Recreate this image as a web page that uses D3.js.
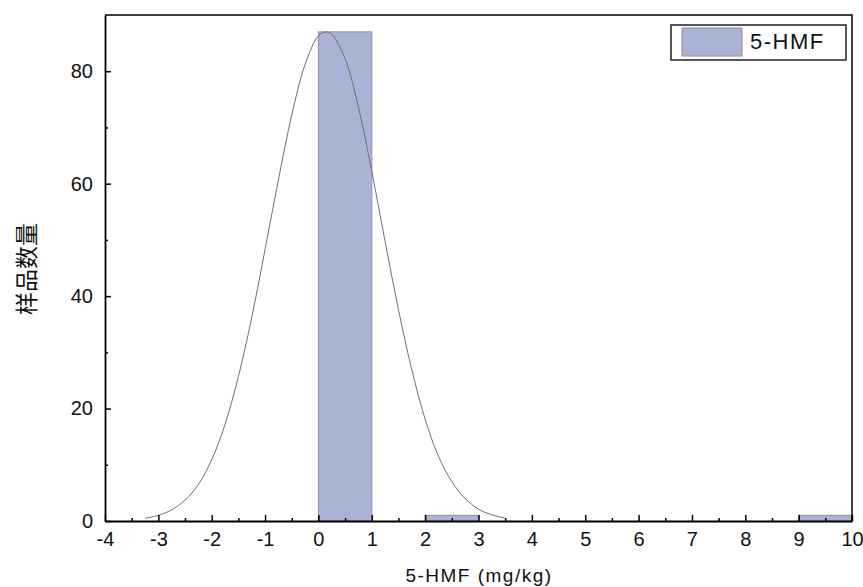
<!DOCTYPE html>
<html>
<head>
<meta charset="utf-8">
<script src="https://cdn.jsdelivr.net/npm/d3@7"></script>
<style>
  body { margin: 0; background: #fff; }
  .tick text { font-family: "Liberation Sans", Arial, sans-serif; font-size: 20px; fill: #111; }
  .axis path, .axis line { stroke: #000; }
</style>
</head>
<body>
<div class="render"></div>
<script>
"use strict";

// histogram bins (mg/kg) and counts
var binLo = [0, 1, 2, 3, 4, 5, 6, 7, 8, 9];
var binHi = [1, 2, 3, 4, 5, 6, 7, 8, 9, 10];
var counts = [87, 0, 1, 0, 0, 0, 0, 0, 0, 1];

// fitted curve
var curveX = [-3.25, -3, -2.75, -2.5, -2.25, -2, -1.75, -1.5, -1.25, -1, -0.75, -0.5, -0.25, 0, 0.15, 0.25, 0.5, 0.75, 1, 1.25, 1.5, 1.75, 2, 2.25, 2.5, 2.75, 3, 3.25, 3.5];
var curveY = [0.5, 1, 2, 3.7, 6.5, 10.9, 17.2, 25.7, 36.2, 48.3, 60.7, 72.2, 81.2, 86.3, 87, 86.6, 82.2, 73.6, 62.2, 49.7, 37.6, 26.9, 18.1, 11.5, 7, 4, 2.1, 1.1, 0.5];

var xTicks = [-4, -3, -2, -1, 0, 1, 2, 3, 4, 5, 6, 7, 8, 9, 10];
var xMinor = [-3.5, -2.5, -1.5, -0.5, 0.5, 1.5, 2.5, 3.5, 4.5, 5.5, 6.5, 7.5, 8.5, 9.5];
var yTicks = [0, 20, 40, 60, 80];
var yMinor = [10, 30, 50, 70];

var w = 863;
var h = 587;
var pLeft = 105, pRight = 852, pTop = 15, pBottom = 521;

var svg = d3.select('.render').append('svg').attr('width', w).attr('height', h);

var x = d3.scaleLinear().domain([-4, 10]).range([pLeft, pRight]);
var y = d3.scaleLinear().domain([0, 90]).range([pBottom, pTop]);

// bars
binLo.forEach(function (lo, i) {
   if (counts[i] <= 0) return;
   svg.append('rect')
      .attr('x', x(lo))
      .attr('y', y(counts[i]))
      .attr('width', x(binHi[i]) - x(lo))
      .attr('height', y(0) - y(counts[i]))
      .attr('fill', '#aab3d5')
      .attr('stroke', '#9a9aa6')
      .attr('stroke-width', 1.2);
});

// fitted curve
var line = d3.line()
   .x(function (d, i) { return x(curveX[i]); })
   .y(function (d) { return y(d); })
   .curve(d3.curveCatmullRom);
svg.append('path').datum(curveY).attr('d', line)
   .attr('fill', 'none').attr('stroke', '#707070').attr('stroke-width', 1);

// frame (top & right)
svg.append('path')
   .attr('d', 'M' + pLeft + ',' + pTop + 'H' + pRight + 'V' + pBottom)
   .attr('fill', 'none').attr('stroke', '#000').attr('stroke-width', 1.5);

var plain = function (d) { return String(d); };

// x axis
var gx = svg.append('g').attr('class', 'axis').attr('transform', 'translate(0,' + pBottom + ')')
   .call(d3.axisBottom(x).tickValues(xTicks).tickSizeInner(-6).tickSizeOuter(0).tickPadding(11)
      .tickFormat(plain));
gx.select('.domain').attr('stroke-width', 1.8);
gx.selectAll('.tick line').attr('stroke-width', 1.5);
svg.append('g').attr('class', 'axis').attr('transform', 'translate(0,' + pBottom + ')')
   .call(d3.axisBottom(x).tickValues(xMinor).tickSizeInner(-3).tickSizeOuter(0).tickFormat(''))
   .call(function (g) { g.select('.domain').remove(); })
   .selectAll('.tick line').attr('stroke-width', 1.5);

// y axis
var gy = svg.append('g').attr('class', 'axis').attr('transform', 'translate(' + pLeft + ',0)')
   .call(d3.axisLeft(y).tickValues(yTicks).tickSizeInner(-6).tickSizeOuter(0).tickPadding(12)
      .tickFormat(plain));
gy.select('.domain').attr('stroke-width', 1.8);
gy.selectAll('.tick line').attr('stroke-width', 1.5);
svg.append('g').attr('class', 'axis').attr('transform', 'translate(' + pLeft + ',0)')
   .call(d3.axisLeft(y).tickValues(yMinor).tickSizeInner(-3).tickSizeOuter(0).tickFormat(''))
   .call(function (g) { g.select('.domain').remove(); })
   .selectAll('.tick line').attr('stroke-width', 1.5);

// axis titles
svg.append('text').text('5-HMF (mg/kg)')
   .attr('x', 479).attr('y', 582).attr('text-anchor', 'middle')
   .style('font-family', 'Liberation Sans, Arial, sans-serif').style('font-size', '19px')
   .style('letter-spacing', '1.5px').attr('fill', '#111');
svg.append('text').text('样品数量')
   .attr('transform', 'translate(35,269)rotate(-90)').attr('text-anchor', 'middle')
   .style('font-family', 'Noto Sans CJK SC, sans-serif').style('font-size', '23px').attr('fill', '#111');

// legend
var lg = svg.append('g');
lg.append('rect').attr('x', 671).attr('y', 25).attr('width', 175).attr('height', 35)
   .attr('fill', '#fff').attr('stroke', '#222').attr('stroke-width', 1.5);
lg.append('rect').attr('x', 682).attr('y', 28).attr('width', 60).attr('height', 28)
   .attr('fill', '#aab3d5').attr('stroke', '#9a9aa6').attr('stroke-width', 1.2);
lg.append('text').text('5-HMF').attr('x', 750).attr('y', 49)
   .style('font-family', 'Liberation Sans, Arial, sans-serif').style('font-size', '22px')
   .style('letter-spacing', '1.5px').attr('fill', '#111');
</script>
</body>
</html>
